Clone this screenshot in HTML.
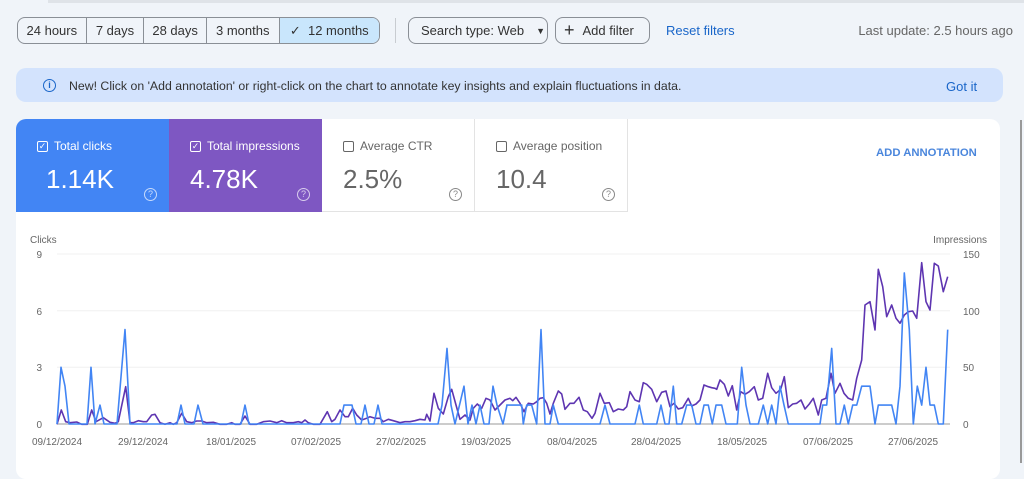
<!DOCTYPE html>
<html><head><meta charset="utf-8">
<style>
*{box-sizing:border-box;margin:0;padding:0}
body{width:1024px;height:463px;overflow:hidden;background:#f0f4f9;font-family:"Liberation Sans",Arial,sans-serif;position:relative;color:#444}
.abs{position:absolute}
.seg{position:absolute;top:17px;height:27px;border:1px solid #8a8f96;border-radius:8px;display:flex;overflow:hidden;left:17px;width:363px}
.seg div{height:100%;display:flex;align-items:center;justify-content:center;font-size:13px;color:#333;border-right:1px solid #8a8f96}
.seg div:last-child{border-right:none;background:#c9e6fc}
.btn{position:absolute;top:17px;height:27px;border:1px solid #8a8f96;border-radius:8px;font-size:13px;color:#333;display:flex;align-items:center}
.tile{position:absolute;top:119px;height:93px;width:153px}
.tile .lab{position:absolute;left:21px;top:20px;font-size:12px;display:flex;align-items:center}
.cb{display:inline-block;width:11px;height:11px;border:1.3px solid currentColor;border-radius:2px;margin-right:6px;position:relative;font-size:9px;line-height:9px;text-align:center}
.tile .val{position:absolute;left:27px;top:45px;font-size:26px}
.q{position:absolute;right:12px;top:69px;width:13px;height:13px;border:1.2px solid currentColor;border-radius:50%;font-size:9px;text-align:center;line-height:11px}
</style></head><body>
<div class="abs" style="left:48px;top:0;width:976px;height:3px;background:#dfe3e8"></div>
<div class="seg">
<div style="width:69px">24 hours</div><div style="width:58px">7 days</div><div style="width:63px">28 days</div><div style="width:73px">3 months</div><div style="width:100px">✓&nbsp;&nbsp;12 months</div>
</div>
<div class="abs" style="left:395px;top:18px;width:1px;height:25px;background:#c8ccd1"></div>
<div class="btn" style="left:408px;width:140px;padding-left:12px">Search type: Web<span style="margin-left:12px;font-size:9px">▼</span></div>
<div class="btn" style="left:555px;width:95px;padding-left:8px"><span style="font-size:18px;margin-right:8px;font-weight:300">+</span>Add filter</div>
<div class="abs" style="left:666px;top:23px;font-size:13px;color:#1a66c9">Reset filters</div>
<div class="abs" style="right:11px;top:23px;font-size:13px;color:#666">Last update: 2.5 hours ago</div>
<div class="abs" style="left:16px;top:68px;width:987px;height:34px;background:#d3e3fd;border-radius:10px"></div>
<div class="abs" style="left:43px;top:79px;width:13px;height:13px;border:1.4px solid #1a66c9;border-radius:50%;font-size:9px;color:#1a66c9;text-align:center;line-height:11px;font-weight:bold">i</div>
<div class="abs" style="left:69px;top:79px;font-size:12.3px;color:#333">New! Click on 'Add annotation' or right-click on the chart to annotate key insights and explain fluctuations in data.</div>
<div class="abs" style="left:946px;top:79px;font-size:13px;color:#1a66c9">Got it</div>
<div class="abs" style="left:16px;top:119px;width:984px;height:360px;background:#fff;border-radius:10px"></div>
<div class="abs" style="left:1020px;top:120px;width:2px;height:343px;background:#999"></div>
<div class="tile" style="left:16px;background:#4285f4;color:#fff;border-top-left-radius:10px"><div class="lab"><span class="cb">✓</span>Total clicks</div><div class="val" style="left:30px">1.14K</div><div class="q" style="opacity:.7">?</div></div>
<div class="tile" style="left:169px;background:#7e57c2;color:#fff"><div class="lab"><span class="cb">✓</span>Total impressions</div><div class="val" style="left:21px">4.78K</div><div class="q" style="opacity:.7">?</div></div>
<div class="tile" style="left:322px;color:#666;border-right:1px solid #e3e3e3;border-bottom:1px solid #e3e3e3"><div class="lab"><span class="cb"></span>Average CTR</div><div class="val" style="left:21px">2.5%</div><div class="q" style="color:#888">?</div></div>
<div class="tile" style="left:475px;color:#666;border-right:1px solid #e3e3e3;border-bottom:1px solid #e3e3e3"><div class="lab"><span class="cb"></span>Average position</div><div class="val" style="left:21px">10.4</div><div class="q" style="color:#888">?</div></div>
<div class="abs" style="left:876px;top:147px;font-size:11.3px;font-weight:bold;color:#4a86dc">ADD ANNOTATION</div>
<svg class="abs" style="left:0;top:0" width="1024" height="463" font-family="Liberation Sans, Arial, sans-serif" font-size="10" fill="#666">
<g stroke="#f0f0f0" stroke-width="1">
<line x1="57" x2="950" y1="254" y2="254"/><line x1="57" x2="950" y1="310.7" y2="310.7"/><line x1="57" x2="950" y1="367.3" y2="367.3"/>
</g>
<line x1="57" x2="950" y1="424" y2="424" stroke="#999"/>
<text x="30" y="243">Clicks</text>
<text x="987" y="243" text-anchor="end">Impressions</text>
<g text-anchor="end"><text x="42" y="258">9</text><text x="42" y="315">6</text><text x="42" y="371">3</text><text x="42" y="428">0</text></g>
<g><text x="963" y="258">150</text><text x="963" y="315">100</text><text x="963" y="371">50</text><text x="963" y="428">0</text></g>
<g text-anchor="middle">
<text x="57" y="445">09/12/2024</text><text x="143" y="445">29/12/2024</text><text x="231" y="445">18/01/2025</text><text x="316" y="445">07/02/2025</text><text x="401" y="445">27/02/2025</text><text x="486" y="445">19/03/2025</text><text x="572" y="445">08/04/2025</text><text x="656" y="445">28/04/2025</text><text x="742" y="445">18/05/2025</text><text x="828" y="445">07/06/2025</text><text x="913" y="445">27/06/2025</text>
</g>
<polyline id="pur" fill="none" stroke="#5e35b1" stroke-width="1.6" stroke-linejoin="round"/>
<polyline id="blu" fill="none" stroke="#4285f4" stroke-width="1.6" stroke-linejoin="round"/>
</svg>
<script>
var b1=[[57,0],[61,3],[65,2],[69,0],[87,0],[91,3],[95,0],[100,1],[104,0],[117,0],[125,5],[130,0],[177,0],[181,1],[185,0],[194,0],[198,1],[203,0],[241,0],[245,1],[249,0],[340,0],[344,1],[352,1],[356,0],[361,0],[365,1],[369,0],[374,0],[378,1],[382,0],[438,0],[442,1],[447,4],[451,1],[455,0],[464,2],[468,0],[472,1],[476,0],[480,1],[484,0],[489,0],[493,2],[497,1],[503,0],[507,1]];
var z=[[20,1],[65,1],[70,0],[80,1],[95,1],[110,0],[123,5],[135,0],[150,0],[160,1],[175,0],[300,0],[315,1],[330,0],[405,0],[418,1],[430,0],[470,0],[483,1],[495,0],[507,0],[520,2],[530,0],[545,0],[560,1],[575,1],[588,0],[600,0],[612,1],[625,1],[637,0],[648,1],[665,1],[678,0],[712,0],[725,3],[738,1],[750,0],[775,0],[790,1],[803,0],[815,1],[828,0],[840,2],[852,1],[865,0],[960,0],[968,1],[980,1],[995,4],[1008,0],[1020,0],[1033,1],[1045,0],[1058,1],[1070,1],[1085,2],[1110,2],[1125,0],[1135,1],[1175,1],[1188,0],[1200,2],[1213,8],[1228,5],[1240,0],[1252,2],[1265,1],[1278,3],[1290,1],[1303,1],[1315,0],[1330,0],[1343,5]];
var bp=b1.map(function(p){return p[0]+","+(424-p[1]*170/9).toFixed(1)});
z.forEach(function(p){bp.push((500+p[0]/3).toFixed(1)+","+(424-p[1]*170/9).toFixed(1))});
document.getElementById("blu").setAttribute("points",bp.join(" "));
var p2=[[171,583],[184,540],[197,575],[210,578],[230,576],[245,583],[262,583],[275,540],[288,575],[310,563],[330,577],[345,580],[355,575],[377,470],[390,578],[400,578],[415,572],[430,575],[440,575],[455,555],[465,553],[480,578],[495,583],[510,578],[520,583],[530,578],[545,550],[560,575],[575,578],[590,573],[605,573],[620,578],[640,577],[660,583],[680,583],[695,578],[705,583],[720,583],[735,558],[750,583],[770,583],[790,575],[810,573],[830,578],[845,572],[860,578],[880,578],[895,575],[905,578],[915,570],[925,578],[940,583],[960,583],[982,545],[995,575],[1005,568],[1020,540],[1035,560],[1045,560],[1058,535],[1070,555],[1085,570],[1100,565],[1110,560],[1125,565],[1140,565],[1150,575],[1165,568],[1180,572],[1200,578],[1215,575],[1230,575],[1245,572],[1260,568],[1275,570],[1280,553],[1290,573],[1302,490],[1315,535],[1330,552],[1345,500],[1355,478],[1368,525],[1380,568],[1395,555],[1410,570],[1420,535],[1432,522],[1445,535],[1458,505],[1470,510],[1485,540],[1500,525]];
var p3=[[0,525],[15,510],[30,505],[38,512],[48,502],[60,520],[72,545],[85,520],[100,522],[110,515],[120,505],[130,503],[140,520],[150,552],[160,520],[175,483],[185,492],[195,538],[210,520],[222,520],[237,502],[250,540],[262,545],[276,565],[285,550],[300,490],[313,520],[328,518],[340,545],[355,537],[370,540],[380,530],[390,485],[405,510],[418,515],[430,458],[440,463],[455,478],[470,515],[485,487],[498,483],[510,530],[522,520],[535,537],[548,533],[565,505],[575,528],[588,522],[600,510],[612,465],[625,470],[635,473],[645,475],[650,478],[660,450],[673,463],[685,498],[697,467],[710,540],[722,485],[735,493],[748,485],[763,470],[775,510],[788,505],[803,430],[815,473],[828,490],[842,478],[853,440],[865,533],[878,522],[890,520],[903,510],[915,537],[928,522],[940,505],[955,555],[965,510],[978,505],[993,430],[1005,490],[1020,460],[1032,490],[1045,505],[1058,510],[1070,445],[1085,390],[1095,225],[1110,215],[1125,300],[1135,118],[1148,170],[1160,260],[1175,225],[1188,265],[1200,280],[1213,255],[1225,245],[1238,243],[1250,265],[1265,98],[1278,215],[1290,240],[1303,100],[1315,108],[1330,185],[1343,140]];
var pp=p2.map(function(p){return (p[0]/3).toFixed(1)+","+(230+p[1]/3).toFixed(1)});
p3.forEach(function(p){pp.push((500+p[0]/3).toFixed(1)+","+(230+p[1]/3).toFixed(1))});
document.getElementById("pur").setAttribute("points",pp.join(" "));
</script>
</body></html>
